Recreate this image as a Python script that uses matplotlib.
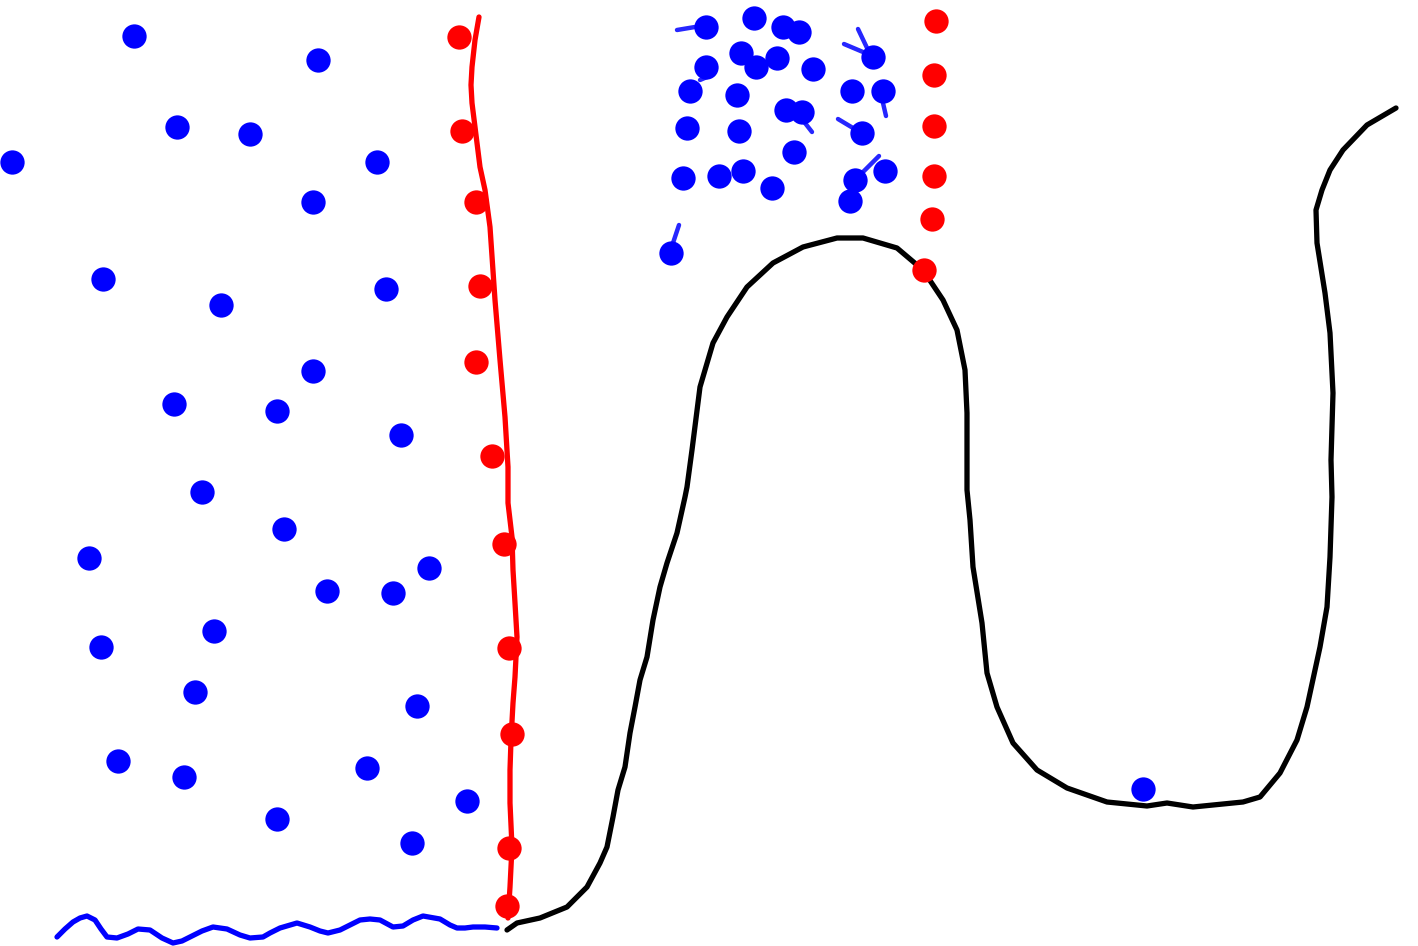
import numpy as np
import matplotlib
matplotlib.use("Agg")
import matplotlib.pyplot as plt

# ---- data (pixel coordinates, y measured from top) ----
blue_x = [134, 318, 177, 250, 12, 377, 313, 103, 221, 386, 313, 174, 277, 401,
          202, 284, 89, 327, 393, 429, 214, 101, 195, 417, 118, 184, 367, 467,
          277, 412,
          706, 754, 783, 799, 741, 756, 777, 813, 706, 690, 737, 852, 883, 873,
          786, 802, 687, 739, 862, 794, 683, 719, 743, 772, 855, 885, 850, 671,
          1143]
blue_y = [36, 60, 127, 134, 162, 162, 202, 279, 305, 289, 371, 404, 411, 435,
          492, 529, 558, 591, 593, 568, 631, 647, 692, 706, 761, 777, 768, 801,
          819, 843,
          27, 18, 27, 32, 53, 67, 58, 69, 67, 91, 95, 91, 91, 57,
          110, 112, 128, 131, 133, 152, 178, 176, 171, 188, 180, 171, 201, 253,
          789]

red_x = [459, 462, 476, 480, 476, 492, 504, 509, 512, 509, 507,
         936, 934, 934, 934, 932, 924]
red_y = [37, 131, 202, 286, 362, 456, 544, 648, 734, 848, 906,
         21, 75, 126, 176, 219, 270]

red_line_x = [479, 475, 472, 471, 472, 476, 480, 485, 490, 495, 500, 505, 508,
              508, 512, 513, 515, 517, 515, 513, 511, 510, 510, 512, 510, 508]
red_line_y = [17, 40, 67, 85, 103, 135, 167, 190, 227, 300, 360, 417, 467,
              503, 537, 570, 603, 637, 677, 703, 740, 770, 803, 847, 887, 918]

black_x = [507, 517, 540, 567, 587, 600, 607, 613, 618, 625, 630, 635, 640, 647,
           653, 660, 667, 677, 685, 687, 692, 700, 713, 727, 747, 773, 803, 837,
           863, 897, 923, 943, 957, 965, 967, 967, 970, 973, 982, 987, 997,
           1013, 1037, 1067, 1107, 1147, 1167, 1193, 1243, 1260, 1280, 1297,
           1307, 1320, 1327, 1330, 1332, 1331, 1333, 1330, 1325, 1317, 1316,
           1322, 1330, 1343, 1367, 1396]
black_y = [930, 923, 918, 907, 887, 863, 847, 817, 790, 767, 733, 707, 680, 657,
           620, 587, 563, 533, 497, 487, 450, 387, 343, 317, 287, 263, 247, 238,
           238, 248, 270, 300, 330, 370, 413, 490, 520, 567, 623, 673, 707,
           743, 770, 788, 802, 806, 803, 807, 802, 797, 773, 740,
           707, 647, 607, 557, 497, 460, 393, 333, 293, 243, 210,
           190, 170, 150, 125, 108]

wave_x = [57, 65, 73, 80, 87, 95, 101, 107, 117, 128, 138, 150, 162, 173, 182,
          190, 202, 213, 227, 240, 250, 263, 270, 280, 297, 310, 320, 328, 340,
          350, 360, 370, 380, 393, 403, 413, 423, 440, 450, 457, 465, 473, 485,
          497]
wave_y = [937, 929, 922, 918, 916, 920, 929, 937, 938, 934, 929, 930, 938, 943,
          941, 937, 931, 927, 929, 935, 938, 937, 933, 928, 923, 927, 931, 933,
          930, 925, 920, 919, 920, 927, 926, 920, 916, 919, 925, 928, 928, 927,
          927, 928]

# short blue strokes around the top cluster (x0, y0, x1, y1)
strokes = [
    (677, 30, 695, 27),
    (858, 29, 868, 50),
    (844, 44, 863, 52),
    (700, 80, 707, 77),
    (883, 103, 886, 116),
    (805, 123, 812, 132),
    (838, 119, 853, 128),
    (879, 156, 863, 172),
    (679, 225, 673, 243),
]

W, H = 1418, 946
fig = plt.figure(figsize=(W / 100, H / 100), dpi=100)
ax = fig.add_axes([0, 0, 1, 1])
ax.set_xlim(0, W)
ax.set_ylim(H, 0)
ax.axis("off")

line_kw = dict(lw=3.8, solid_capstyle="round", solid_joinstyle="round", zorder=1)
ax.plot(black_x, black_y, color="black", **line_kw)
ax.plot(wave_x, wave_y, color="#0000ff", **line_kw)
ax.plot(red_line_x, red_line_y, color="#ff0000", **line_kw)
for x0, y0, x1, y1 in strokes:
    ax.plot([x0, x1], [y0, y1], color="#0000ff", lw=3.2, alpha=0.85,
            solid_capstyle="round", zorder=1)

ax.plot(blue_x, blue_y, "o", color="#0000ff", ms=17.5, mec="none", zorder=3)
ax.plot(red_x, red_y, "o", color="#ff0000", ms=17.5, mec="none", zorder=3)

fig.savefig("out.png", dpi=100)
